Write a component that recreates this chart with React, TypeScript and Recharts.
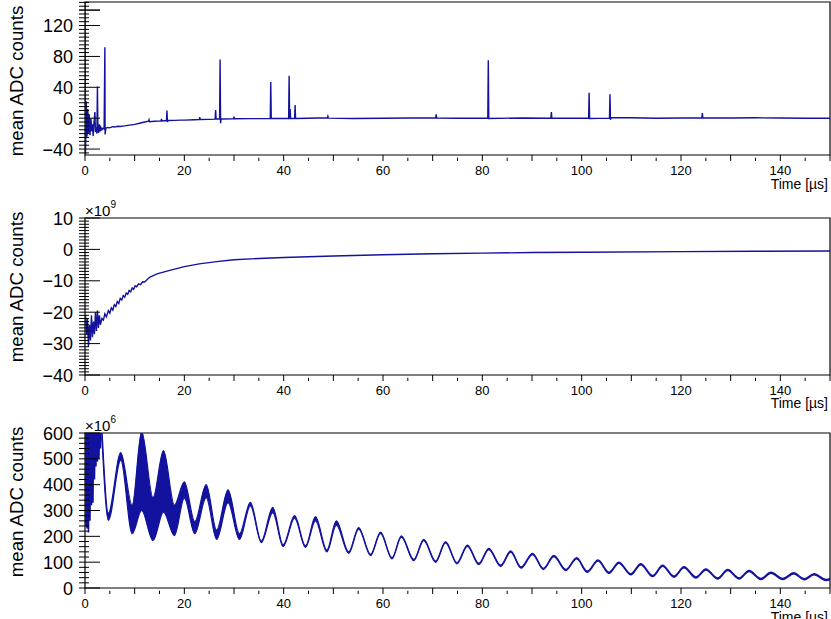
import { LineChart, ComposedChart, Line, Area, XAxis, YAxis, ReferenceArea } from 'recharts';

const FONT = '"Liberation Sans", Arial, Helvetica, sans-serif';
const INK = '#000';
const BLUE = '#12129e';

// shared time axis (µs)
const timeTicks = Array.from({ length: 31 }, (_, i) => i * 5);

// pad 1: baseline-subtracted mean ADC counts
const pad1Time = [
  0, 0.1, 0.25, 0.4, 0.55, 0.7, 0.85, 1.0, 1.2, 1.35,
  1.5, 1.65, 1.8, 2.0, 2.1, 2.25, 2.4, 2.5, 2.6, 2.75,
  2.9, 3.05, 3.2, 3.4, 3.6, 3.85, 4.0, 4.05, 4.2, 4.6,
  5, 5.5, 6, 6.5, 7, 8, 9, 10, 11, 12,
  12.8, 12.9, 13, 14, 15.3, 15.4, 15.5, 16.4, 16.5, 16.6,
  16.7, 18, 19.3, 20, 22, 23, 23.1, 23.2, 25, 26.2,
  26.3, 26.4, 27.1, 27.2, 27.3, 27.4, 29.9, 30, 30.1, 33,
  37.3, 37.4, 37.5, 41.0, 41.1, 41.2, 41.3, 41.4, 42.2, 42.3,
  42.4, 45, 48.8, 48.9, 49, 54, 60, 65, 70.6, 70.7,
  70.8, 75, 81.1, 81.2, 81.3, 88, 93.8, 93.9, 94.0, 97,
  101.4, 101.5, 101.6, 105.6, 105.7, 105.8, 105.9, 110, 115, 120,
  124.2, 124.3, 124.4, 130, 135, 140, 145, 150,
];
const pad1Counts = [
  160, -47, 22, -24, 12, -20, 5, -22, 0, -17,
  -8, -23, -6, 8, -18, -12, -20, 41, -14, -19,
  -8, -17, -12, -15, -13, -14, 92, -21, -13, -12,
  -12.5, -11, -11.5, -10.5, -10.8, -10, -9, -8, -6.5, -5,
  -4, -2, -4.5, -4, -3.5, -1, -3.5, -3, 10, -5,
  -3, -2.8, -2.5, -2.5, -2, -1.8, 1.5, -1.8, -1.5, -1.2,
  10.7, -1, -1, 76, -6.5, -1, -0.8, 2, -0.8, -0.6,
  -0.5, 47, -0.5, -0.4, 55, -1.5, 12, -0.5, -0.5, 17,
  -0.5, 0, 0.5, 2.5, 0, -0.5, 0, 0.3, 0.3, 5,
  0.3, 0, 0, 75, -0.5, 0.3, 0, 8, 0.2, 0,
  0, 33, -0.5, 0, 31, -2, 0.5, 0.5, 0, 0.3,
  0.3, 6.5, 0.5, 0.3, 0.5, 0.2, 0, 0,
];

// pad 2: mean ADC counts in units of 1e9
const pad2Time = [
  0.1, 0.3, 0.5, 0.7, 0.9, 1.1, 1.3, 1.5, 1.7, 1.9,
  2.1, 2.3, 2.5, 2.7, 2.9, 3.1, 3.4, 3.7, 4.0, 4.3,
  4.7, 5.0, 5.3, 5.6, 5.9, 6.2, 6.5, 6.8, 7.1, 7.4,
  7.7, 8.0, 8.3, 8.6, 8.9, 9.2, 9.5, 9.8, 10.1, 10.4,
  10.8, 11.2, 11.6, 12.0, 13, 14.5, 16.5, 20, 23, 26.5,
  30, 35, 40, 50, 60, 70, 80, 90, 100, 120,
  135, 150,
];
const pad2Counts = [
  -21, -27, -22, -31, -24, -29, -21, -28, -23, -27,
  -20, -26, -19.5, -25, -21, -24, -22, -22.5, -20.5, -21.5,
  -19.5, -20.3, -18.6, -19.3, -17.6, -18.2, -16.6, -17.2, -15.6, -16.1,
  -14.7, -15.2, -13.9, -14.3, -13.1, -13.5, -12.3, -12.7, -11.6, -11.9,
  -11.0, -11.2, -10.3, -10.4, -8.9, -7.8, -6.9, -5.5, -4.6, -3.9,
  -3.3, -2.9, -2.6, -2.1, -1.7, -1.4, -1.2, -1.0, -0.9, -0.7,
  -0.6, -0.5,
];

// pad 3: mean ADC counts in units of 1e6, first microseconds (stripes)
const pad3EarlyTime = [
  0, 0.1, 0.25, 0.4, 0.55, 0.7, 0.85, 1.0, 1.15, 1.3,
  1.45, 1.6, 1.75, 1.9, 2.05, 2.2, 2.35, 2.5, 2.65, 2.8,
  2.95, 3.1, 3.3,
];
const pad3EarlyCounts = [
  620, 240, 620, 230, 620, 215, 620, 260, 620, 320,
  620, 330, 620, 420, 620, 470, 620, 490, 620, 500,
  620, 540, 620,
];

// pad 3: envelope of the ringing (low / high edge at each extremum)
const pad3Time = [
  3.4, 4.7, 7.2, 9.5, 11.4, 13.7, 15.8, 18.0,
  20.0, 22.1, 24.4, 26.5, 28.8, 31.1, 33.3, 35.5,
  37.8, 39.9, 42.2, 44.4, 46.4, 48.7, 50.6, 53.1,
  55.1, 57.5, 59.5, 61.8, 63.7, 66.2, 68.2, 70.6,
  72.6, 74.9, 77.0, 79.3, 81.3, 83.7, 85.7, 87.8,
  90.1, 92.3, 94.4, 96.8, 99.0, 101.1, 103.3, 105.5,
  107.5, 109.9, 111.9, 114.3, 116.3, 118.6, 120.6, 123.0,
  125.0, 127.4, 129.4, 131.7, 133.7, 136.1, 138.1, 140.5,
  142.7, 144.8, 146.8, 149.2, 150,
];
const pad3Low = [
  585, 262, 495, 210, 300, 184, 294, 203,
  348, 210, 350, 188, 330, 188, 318, 176,
  292, 160, 270, 157, 260, 140, 243, 134,
  228, 125.5, 211.5, 112.5, 196.5, 105.5, 183.5, 99.5,
  174.5, 93.5, 161.5, 90.5, 148.5, 83.5, 138.5, 76.5,
  129.5, 71.5, 121.5, 67.5, 112.5, 60.5, 103.5, 56.5,
  95.5, 50.5, 89.5, 43.5, 83.5, 41.5, 77.5, 38.5,
  69.5, 34.5, 67.5, 34.5, 63.5, 32.5, 56.5, 32.5,
  54.5, 31.5, 50.5, 28.5, 31,
];
const pad3High = [
  620, 290, 524, 320, 606, 350, 532, 321,
  411, 257, 400, 224, 380, 210, 332, 182,
  312, 167, 280, 163, 276, 147, 260, 140,
  234, 130.5, 216.5, 117.5, 201.5, 110.5, 188.5, 104.5,
  179.5, 98.5, 166.5, 95.5, 153.5, 88.5, 143.5, 81.5,
  134.5, 76.5, 126.5, 72.5, 117.5, 65.5, 108.5, 61.5,
  100.5, 55.5, 94.5, 48.5, 88.5, 46.5, 82.5, 43.5,
  74.5, 39.5, 72.5, 39.5, 68.5, 37.5, 61.5, 37.5,
  59.5, 36.5, 55.5, 33.5, 36,
];

const pad1Data = pad1Time.map((t, i) => ({ t, v: pad1Counts[i] }));
const pad2Data = pad2Time.map((t, i) => ({ t, v: pad2Counts[i] }));
const pad3Early = pad3EarlyTime.map((t, i) => ({ t, v: pad3EarlyCounts[i] }));
const pad3Band = pad3Time.map((t, i) => ({ t, band: [pad3Low[i], pad3High[i]] }));

const X_GAP = 4;
const Y_GAP = 6;

const fmt = (v: number) => (v < 0 ? '\u2212' + Math.abs(v) : String(v));

// ROOT style: ticks drawn inside the frame
const XTick = (props: any) => {
  const { x, y, payload } = props;
  const v = payload.value;
  const axisY = y - X_GAP;
  const len = v % 10 === 0 ? 6 : 3.3;
  return (
    <g>
      <line x1={x} x2={x} y1={axisY} y2={axisY - len} stroke={INK} strokeWidth={1} />
      {v % 20 === 0 && (
        <text x={x} y={axisY + 13.5} textAnchor="middle" fontSize={13} fontFamily={FONT} fill={INK}>
          {v}
        </text>
      )}
    </g>
  );
};

const makeYTick = (isMajor: (v: number) => boolean, labels: number[]) => (props: any) => {
  const { x, y, payload } = props;
  const v = Math.round(payload.value * 1000) / 1000;
  const axisX = x + Y_GAP;
  const len = isMajor(v) ? 21 : 10;
  return (
    <g>
      <line x1={axisX} x2={axisX + len} y1={y} y2={y} stroke={INK} strokeWidth={1} />
      {labels.includes(v) && (
        <text x={axisX - 6} y={y + 6.5} textAnchor="end" fontSize={18} fontFamily={FONT} fill={INK}>
          {fmt(v)}
        </text>
      )}
    </g>
  );
};

const pad1Domain = [-47.7, 150.5];
const pad1Ticks = Array.from({ length: 40 }, (_, i) => -45 + i * 5);
const pad1Labels = [-40, 0, 40, 80, 120];

const pad2Domain = [-40, 10];
const pad2Ticks = Array.from({ length: 51 }, (_, i) => -40 + i);
const pad2Labels = [-40, -30, -20, -10, 0, 10];

const pad3Domain = [0, 600];
const pad3Ticks = Array.from({ length: 31 }, (_, i) => i * 20);
const pad3Labels = [0, 100, 200, 300, 400, 500, 600];

const xAxisProps = {
  dataKey: 't',
  type: 'number' as const,
  domain: [0, 150],
  allowDataOverflow: true,
  ticks: timeTicks,
  interval: 0 as const,
  tickLine: false,
  axisLine: false,
  tickMargin: X_GAP,
  tick: (p: any) => <XTick {...p} />,
};

export default function App() {
  return (
    <div style={{ position: 'absolute', left: 0, top: 0, width: 831, height: 619, fontFamily: FONT, background: '#fff' }}>
      <div style={{ position: 'absolute', left: 0, top: 0 }}>
        <LineChart width={831} height={200} margin={{ top: 2, right: 1, bottom: 0, left: 0 }}>
          <XAxis {...xAxisProps} height={45} />
          <YAxis
            type="number"
            domain={pad1Domain}
            allowDataOverflow
            ticks={[...pad1Ticks, 140]}
            interval={0}
            width={85}
            tickLine={false}
            axisLine={false}
            tickMargin={Y_GAP}
            tick={makeYTick((v) => v % 40 === 0 || v === 140, pad1Labels)}
          />
          <ReferenceArea x1={0} x2={150} y1={pad1Domain[0]} y2={pad1Domain[1]} fill="none" stroke={INK} strokeWidth={1.2} ifOverflow="visible" />
          <Line data={pad1Data} dataKey="v" type="linear" stroke={BLUE} strokeWidth={1.4} dot={false} isAnimationActive={false} />
        </LineChart>
      </div>
      <div style={{ position: 'absolute', left: 0, top: 200 }}>
        <LineChart width={831} height={215} margin={{ top: 18, right: 1, bottom: 0, left: 0 }}>
          <XAxis {...xAxisProps} height={40} />
          <YAxis
            type="number"
            domain={pad2Domain}
            allowDataOverflow
            ticks={pad2Ticks}
            interval={0}
            width={85}
            tickLine={false}
            axisLine={false}
            tickMargin={Y_GAP}
            tick={makeYTick((v) => v % 10 === 0, pad2Labels)}
          />
          <ReferenceArea x1={0} x2={150} y1={pad2Domain[0]} y2={pad2Domain[1]} fill="none" stroke={INK} strokeWidth={1.2} ifOverflow="visible" />
          <Line data={pad2Data} dataKey="v" type="linear" stroke={BLUE} strokeWidth={1.4} dot={false} isAnimationActive={false} />
        </LineChart>
      </div>
      <div style={{ position: 'absolute', left: 0, top: 415 }}>
        <ComposedChart width={831} height={204} margin={{ top: 18, right: 1, bottom: 0, left: 0 }}>
          <XAxis {...xAxisProps} height={31} />
          <YAxis
            type="number"
            domain={pad3Domain}
            allowDataOverflow
            ticks={pad3Ticks}
            interval={0}
            width={85}
            tickLine={false}
            axisLine={false}
            tickMargin={Y_GAP}
            tick={makeYTick((v) => v % 100 === 0, pad3Labels)}
          />
          <ReferenceArea x1={0} x2={150} y1={pad3Domain[0]} y2={pad3Domain[1]} fill="none" stroke={INK} strokeWidth={1.2} ifOverflow="visible" />
          <Line data={pad3Early} dataKey="v" type="linear" stroke={BLUE} strokeWidth={1.6} dot={false} isAnimationActive={false} />
          <Area data={pad3Band} dataKey="band" type="monotone" stroke={BLUE} strokeWidth={1.2} fill={BLUE} fillOpacity={1} isAnimationActive={false} />
        </ComposedChart>
      </div>
      <svg width={831} height={619} style={{ position: 'absolute', left: 0, top: 0, pointerEvents: 'none' }}>
        {[81, 287, 502].map((cy) => (
          <text key={cy} x={23} y={cy} transform={`rotate(-90 23 ${cy})`} textAnchor="middle" fontSize={18.7} fontFamily={FONT} fill={INK}>
            mean ADC counts
          </text>
        ))}
        {[155, 374.5, 588].map((ay) => (
          <text key={ay} x={828} y={ay + 33.5} textAnchor="end" fontSize={14} fontFamily={FONT} fill={INK}>
            Time [µs]
          </text>
        ))}
        <text x={85} y={216} fontSize={15} fontFamily={FONT} fill={INK}>
          ×10<tspan fontSize={10} dy={-8}>9</tspan>
        </text>
        <text x={85} y={431} fontSize={15} fontFamily={FONT} fill={INK}>
          ×10<tspan fontSize={10} dy={-8}>6</tspan>
        </text>
      </svg>
    </div>
  );
}
